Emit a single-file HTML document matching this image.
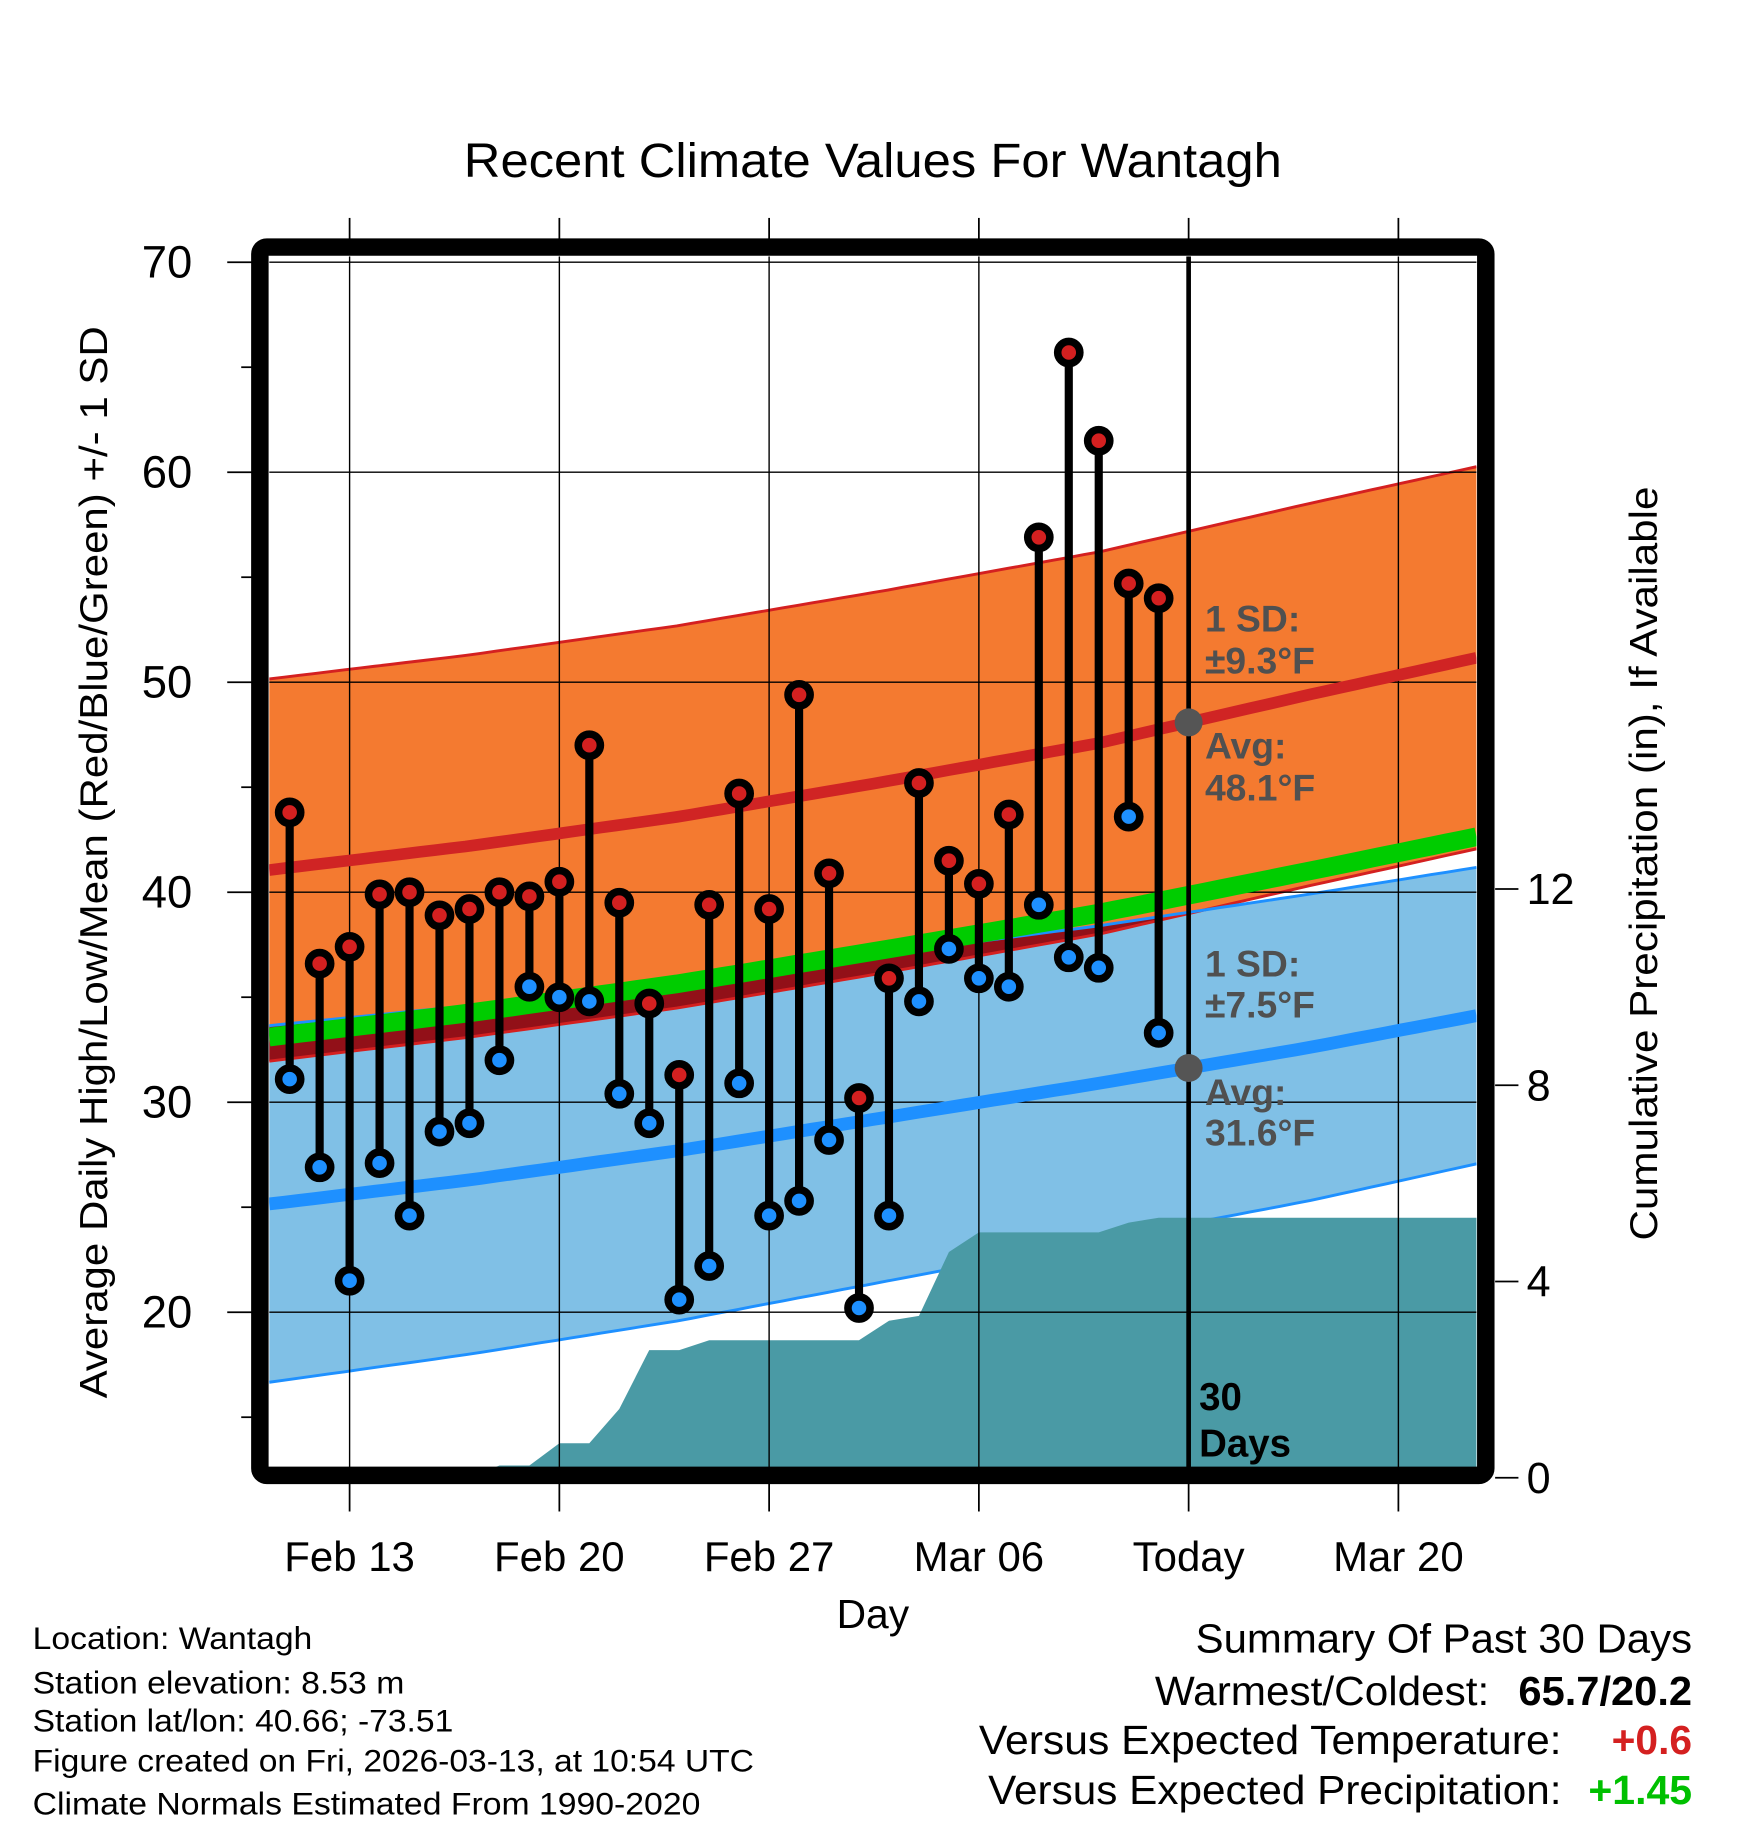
<!DOCTYPE html>
<html><head><meta charset="utf-8"><style>
html,body{margin:0;padding:0;background:#fff;}
svg{display:block;font-family:"Liberation Sans",sans-serif;}
</style></head><body>
<svg id="chart" width="1748" height="1828" viewBox="0 0 1500 1568.6" preserveAspectRatio="none" xmlns="http://www.w3.org/2000/svg">
<text x="749" y="152" font-size="41" text-anchor="middle" textLength="702" lengthAdjust="spacingAndGlyphs">Recent Climate Values For Wantagh</text>
<g id="plot"></g>
<text transform="translate(92,740) rotate(-90)" font-size="33" text-anchor="middle" textLength="920" lengthAdjust="spacingAndGlyphs">Average Daily High/Low/Mean (Red/Blue/Green) +/- 1 SD</text>
<text transform="translate(1422,741) rotate(-90)" font-size="33" text-anchor="middle" textLength="647" lengthAdjust="spacingAndGlyphs">Cumulative Precipitation (in), If Available</text>
<text x="749" y="1397" font-size="35" text-anchor="middle">Day</text>
<g font-size="27">
<text x="28" y="1415" textLength="240" lengthAdjust="spacingAndGlyphs">Location: Wantagh</text>
<text x="28" y="1453" textLength="319" lengthAdjust="spacingAndGlyphs">Station elevation: 8.53 m</text>
<text x="28" y="1486" textLength="361" lengthAdjust="spacingAndGlyphs">Station lat/lon: 40.66; -73.51</text>
<text x="28" y="1520" textLength="619" lengthAdjust="spacingAndGlyphs">Figure created on Fri, 2026-03-13, at 10:54 UTC</text>
<text x="28" y="1557" textLength="573" lengthAdjust="spacingAndGlyphs">Climate Normals Estimated From 1990-2020</text>
</g>
<g font-size="35">
<text x="1026" y="1418" textLength="426" lengthAdjust="spacingAndGlyphs">Summary Of Past 30 Days</text>
<text x="991" y="1463" textLength="287" lengthAdjust="spacingAndGlyphs">Warmest/Coldest:</text>
<text x="1303" y="1463" font-weight="bold" textLength="149" lengthAdjust="spacingAndGlyphs">65.7/20.2</text>
<text x="840" y="1505" textLength="500" lengthAdjust="spacingAndGlyphs">Versus Expected Temperature:</text>
<text x="1383" y="1505" font-weight="bold" fill="#d42020" textLength="69" lengthAdjust="spacingAndGlyphs">+0.6</text>
<text x="848" y="1548" textLength="492" lengthAdjust="spacingAndGlyphs">Versus Expected Precipitation:</text>
<text x="1363" y="1548" font-weight="bold" fill="#00c000" textLength="89" lengthAdjust="spacingAndGlyphs">+1.45</text>
</g>
</svg>
<script>
// ---- data ----
const highs = [43.8,36.6,37.4,39.9,40.0,38.9,39.2,40.0,39.8,40.5,47.0,39.5,34.7,31.3,39.4,44.7,39.2,49.4,40.9,30.2,35.9,45.2,41.5,40.4,43.7,56.9,65.7,61.5,54.7,54.0];
const lows = [31.1,26.9,21.5,27.1,24.6,28.6,29.0,32.0,35.5,35.0,34.8,30.4,29.0,20.6,22.2,30.9,24.6,25.3,28.2,20.2,24.6,34.8,37.3,35.9,35.5,39.4,36.9,36.4,43.6,33.3];
const precip = [0,0,0,0,0,0,0,0.25,0.25,0.7,0.7,1.4,2.6,2.6,2.8,2.8,2.8,2.8,2.8,2.8,3.2,3.3,4.6,5.0,5.0,5.0,5.0,5.0,5.2,5.3];
const normDays = [-3,4,11,18,25,32,39];
const normHigh = [41.0,42.2,43.6,45.3,47.1,49.4,51.6];
const normLow = [25.1,26.3,27.7,29.3,30.9,32.6,34.5];
const sdHigh = [9.1,9.1,9.1,9.1,9.1,9.1,9.1];
const sdLow = [8.5,8.3,8.1,7.8,7.5,7.3,7.0];
const xTickDays = [0,7,14,21,28,35];
const xTickLabels = ["Feb 13","Feb 20","Feb 27","Mar 06","Today","Mar 20"];
const yTicks = [20,30,40,50,60,70];
const yMinor = [15,25,35,45,55,65];
const pTicks = [0,4,8,12];
const firstDay = -2;
const todayDay = 28;
// ---- scales ----
const X0=231,X1=1267,Y0=220,Y1=1259;
function xs(d){return 300+d*25.714;}
function ys(v){return 225+(70-v)*18.02;}
function yp(p){return 1268-p*42.1;}
const dStart=(X0-300)/25.714, dEnd=(X1-300)/25.714;
function interp(arr,d){
  for(let i=0;i<normDays.length-1;i++){
    if(d<=normDays[i+1]||i==normDays.length-2){
      const t=(d-normDays[i])/(normDays[i+1]-normDays[i]);
      return arr[i]+(arr[i+1]-arr[i])*t;}
  }
}
const NS="http://www.w3.org/2000/svg";
const g=document.getElementById('plot');
function el(tag,attrs,parent){const e=document.createElementNS(NS,tag);for(const k in attrs)e.setAttribute(k,attrs[k]);(parent||g).appendChild(e);return e;}
const samples=[];for(let i=0;i<=80;i++)samples.push(dStart+(dEnd-dStart)*i/80);
const hi=d=>interp(normHigh,d), lo=d=>interp(normLow,d), sh=d=>interp(sdHigh,d), sl=d=>interp(sdLow,d);
function line(f){return samples.map(d=>xs(d).toFixed(1)+','+ys(f(d)).toFixed(1)).join(' ');}
function band(fu,fl){return samples.map(d=>xs(d).toFixed(1)+','+ys(fu(d)).toFixed(1)).concat(samples.slice().reverse().map(d=>xs(d).toFixed(1)+','+ys(fl(d)).toFixed(1))).join(' ');}
const defs=el('defs',{});
const cp=el('clipPath',{id:'pc'},defs);el('rect',{x:X0,y:Y0,width:X1-X0,height:Y1-Y0},cp);
const pg=el('g',{'clip-path':'url(#pc)'});
let e;
e=el('polygon',{points:band(d=>hi(d)+sh(d),d=>hi(d)-sh(d)),fill:'#f47a30'},pg);


e=el('polygon',{points:band(d=>lo(d)+sl(d),d=>lo(d)-sl(d)),fill:'#80c0e6'},pg);


e=el('polygon',{points:band(d=>lo(d)+sl(d),d=>Math.min(hi(d)-sh(d),lo(d)+sl(d))),fill:'#921018'},pg);


[[d=>hi(d)+sh(d),'#d42020'],[d=>hi(d)-sh(d),'#d42020'],[d=>lo(d)+sl(d),'#1e90ff'],[d=>lo(d)-sl(d),'#1e90ff']].forEach(a=>{
  const l=el('polyline',{points:line(a[0]),fill:'none',stroke:a[1],'stroke-width':2.5},pg);
  
  
});
// precip area
let pts=[xs(firstDay)+','+yp(0)];
precip.forEach((p,i)=>pts.push(xs(firstDay+i).toFixed(1)+','+yp(p).toFixed(1)));
pts.push(X1+','+yp(precip[precip.length-1]).toFixed(1));pts.push(X1+','+yp(0));pts.unshift(X0+','+yp(0));
e=el('polygon',{points:pts.join(' '),fill:'#4a9aa5'},pg);


// grid
xTickDays.forEach(d=>{const l=el('line',{x1:xs(d),x2:xs(d),y1:Y0,y2:Y1,stroke:'#000','stroke-width':1.2},pg);

});
yTicks.forEach(v=>{const l=el('line',{x1:X0,x2:X1,y1:ys(v),y2:ys(v),stroke:'#000','stroke-width':1.2},pg);

});
// avg lines
e=el('polyline',{points:line(hi),fill:'none',stroke:'#d02424','stroke-width':10},pg);


e=el('polyline',{points:line(lo),fill:'none',stroke:'#1e90ff','stroke-width':11},pg);


e=el('polyline',{points:line(d=>(hi(d)+lo(d))/2),fill:'none',stroke:'#00cc00','stroke-width':16},pg);


// today line
e=el('line',{x1:xs(todayDay),x2:xs(todayDay),y1:Y0,y2:Y1,stroke:'#000','stroke-width':4},pg);


e=el('circle',{cx:xs(todayDay),cy:ys(hi(todayDay)),r:12,fill:'#555'},pg);


e=el('circle',{cx:xs(todayDay),cy:ys(lo(todayDay)),r:12,fill:'#555'},pg);


// labels
const lab=[["1 SD:",542],["±9.3°F",578],["Avg:",651],["48.1°F",687],["1 SD:",838],["±7.5°F",873],["Avg:",948],["31.6°F",983]];
lab.forEach(a=>{const t=el('text',{x:1034,y:a[1],'font-size':32,'font-weight':'bold',fill:'#505050'},pg);t.textContent=a[0];

});
[["30",1210],["Days",1250]].forEach(a=>{const t=el('text',{x:1029,y:a[1],'font-size':33,'font-weight':'bold',fill:'#000'},pg);t.textContent=a[0];

});
// stems and dots
highs.forEach((h,i)=>{
  const x=xs(firstDay+i);
  const s=el('line',{x1:x,x2:x,y1:ys(h),y2:ys(lows[i]),stroke:'#000','stroke-width':7},pg);
  
  
});
highs.forEach((h,i)=>{
  const x=xs(firstDay+i);
  [[h,'#d42020','high-dot'],[lows[i],'#1e90ff','low-dot']].forEach(a=>{
    const c=el('circle',{cx:x,cy:ys(a[0]),r:9.5,fill:a[1],stroke:'#000','stroke-width':6.5},pg);
    
    
  });
});
// frame
e=el('rect',{x:223,y:212,width:1052,height:1054,fill:'none',stroke:'#000','stroke-width':15,rx:6});


// ticks
yTicks.forEach(v=>{const l=el('line',{x1:195,x2:216,y1:ys(v),y2:ys(v),stroke:'#000','stroke-width':1.5});


const t=el('text',{x:165,y:ys(v)+13,'font-size':39,'text-anchor':'end'});t.textContent=v;

});
yMinor.forEach(v=>{const l=el('line',{x1:207,x2:216,y1:ys(v),y2:ys(v),stroke:'#000','stroke-width':1.5});

});
pTicks.forEach(p=>{const l=el('line',{x1:1283,x2:1303,y1:yp(p),y2:yp(p),stroke:'#000','stroke-width':1.5});


const t=el('text',{x:1310,y:yp(p)+13,'font-size':37});t.textContent=p;

});
xTickDays.forEach((d,i)=>{
  [[187,205],[1273,1297]].forEach(r=>{const l=el('line',{x1:xs(d),x2:xs(d),y1:r[0],y2:r[1],stroke:'#000','stroke-width':1.5});
  
  });
  const t=el('text',{x:xs(d),y:1348,'font-size':36,'text-anchor':'middle'});t.textContent=xTickLabels[i];
  
  
});
</script>
</body></html>
